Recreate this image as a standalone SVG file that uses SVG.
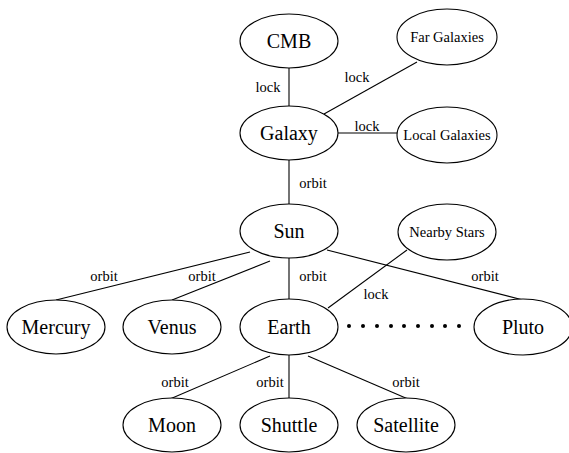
<svg xmlns="http://www.w3.org/2000/svg" width="569" height="453" viewBox="0 0 569 453" font-family="'Liberation Serif', 'Times New Roman', 'DejaVu Serif', serif">
<style>
.n ellipse{fill:#fff;stroke:#000;stroke-width:1.1}
.n text{font-family:'Liberation Serif','Times New Roman','DejaVu Serif',serif;font-size:20px;text-anchor:middle;fill:#000}
.n text.s{font-size:14.5px}
.e line{stroke:#000;stroke-width:1.1}
.e text{font-family:'Liberation Serif','Times New Roman','DejaVu Serif',serif;font-size:14.5px;text-anchor:middle;fill:#000}
.dot{fill:#000}
</style>
<rect width="569" height="453" fill="#fff"/>
<g id="connectors" class="e">
<line x1="289" y1="66" x2="289" y2="108"/>
<text x="268" y="92">lock</text>
<line x1="417" y1="62" x2="324" y2="114"/>
<text x="357" y="82">lock</text>
<line x1="336" y1="133" x2="399" y2="133"/>
<text x="367" y="131">lock</text>
<line x1="289" y1="159" x2="289" y2="205"/>
<text x="313" y="188">orbit</text>
<line x1="250" y1="252" x2="56" y2="300"/>
<text x="104" y="281">orbit</text>
<line x1="270" y1="261" x2="172" y2="300"/>
<text x="202" y="281">orbit</text>
<line x1="289" y1="257" x2="289" y2="300"/>
<text x="313" y="281">orbit</text>
<line x1="327" y1="250" x2="523" y2="300"/>
<text x="485" y="281">orbit</text>
<line x1="407" y1="250" x2="328" y2="308"/>
<text x="376" y="299">lock</text>
<line x1="270" y1="356" x2="170" y2="399"/>
<text x="175" y="387">orbit</text>
<line x1="289" y1="355" x2="289" y2="399"/>
<text x="270" y="387">orbit</text>
<line x1="308" y1="356" x2="408" y2="399"/>
<text x="406" y="387">orbit</text>
</g>
<g id="CMB" class="n"><ellipse cx="289" cy="41" rx="49" ry="27"/><text x="289" y="48">CMB</text></g>
<g id="FarGalaxies" class="n"><ellipse cx="447" cy="37" rx="50" ry="28"/><text class="s" x="447" y="42">Far Galaxies</text></g>
<g id="Galaxy" class="n"><ellipse cx="289" cy="133" rx="49" ry="27"/><text x="289" y="140">Galaxy</text></g>
<g id="LocalGalaxies" class="n"><ellipse cx="447" cy="135" rx="50" ry="28"/><text class="s" x="447" y="140">Local Galaxies</text></g>
<g id="Sun" class="n"><ellipse cx="289" cy="231" rx="49" ry="27"/><text x="289" y="238">Sun</text></g>
<g id="NearbyStars" class="n"><ellipse cx="447" cy="232" rx="49" ry="28"/><text class="s" x="447" y="237">Nearby Stars</text></g>
<g id="Mercury" class="n"><ellipse cx="56" cy="327" rx="49" ry="27"/><text x="56" y="334">Mercury</text></g>
<g id="Venus" class="n"><ellipse cx="172" cy="327" rx="49" ry="27"/><text x="172" y="334">Venus</text></g>
<g id="Earth" class="n"><ellipse cx="289" cy="327" rx="49" ry="28"/><text x="289" y="334">Earth</text></g>
<g id="Pluto" class="n"><ellipse cx="523" cy="327" rx="49" ry="28"/><text x="523" y="334">Pluto</text></g>
<g id="dots">
<circle class="dot" cx="349" cy="326" r="2"/>
<circle class="dot" cx="363" cy="326" r="2"/>
<circle class="dot" cx="377" cy="326" r="2"/>
<circle class="dot" cx="391" cy="326" r="2"/>
<circle class="dot" cx="404" cy="326" r="2"/>
<circle class="dot" cx="418" cy="326" r="2"/>
<circle class="dot" cx="432" cy="326" r="2"/>
<circle class="dot" cx="445" cy="326" r="2"/>
<circle class="dot" cx="459" cy="326" r="2"/>
</g>
<g id="Moon" class="n"><ellipse cx="172" cy="425" rx="49" ry="27"/><text x="172" y="432">Moon</text></g>
<g id="Shuttle" class="n"><ellipse cx="289" cy="425" rx="49" ry="27"/><text x="289" y="432">Shuttle</text></g>
<g id="Satellite" class="n"><ellipse cx="406" cy="425" rx="49" ry="27"/><text x="406" y="432">Satellite</text></g>
</svg>
